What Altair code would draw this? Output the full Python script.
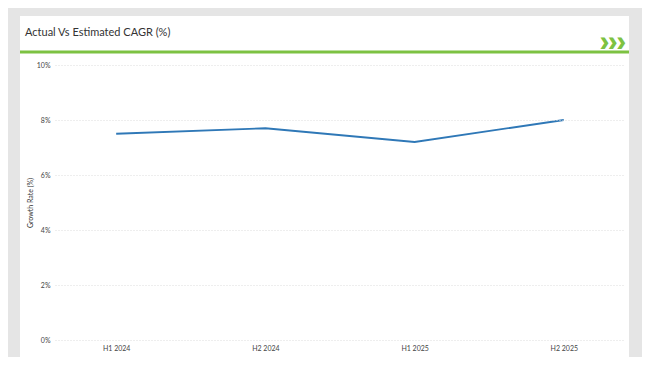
import altair as alt
import pandas as pd

periods = ["H1 2024", "H2 2024", "H1 2025", "H2 2025"]
growth = [7.5, 7.7, 7.2, 8.0]
title_text = "Actual Vs Estimated CAGR (%)"
y_title = "Growth Rate (%)"

df = pd.DataFrame({"period": periods, "growth": growth})
one = pd.DataFrame({"a": [0]})

FONT = "Lato"

panel = alt.Chart(one).mark_rect(color="white").encode(
    x=alt.value(-35), x2=alt.value(574), y=alt.value(-49), y2=alt.value(292)
)
green = alt.Chart(one).mark_rule(color="#7dc242", strokeWidth=3).encode(
    x=alt.value(-35), x2=alt.value(574), y=alt.value(-13)
)
chev = alt.Chart(one).mark_text(
    text="❯❯❯", color="#7dc242", fontSize=10, font="DejaVu Sans", fontWeight="bold",
    stroke="#7dc242", strokeWidth=1.6, align="center", baseline="middle", dx=-2
).encode(x=alt.value(560), y=alt.value(-22))
title = alt.Chart(one).mark_text(
    text=title_text, color="#333333", fontSize=11, font=FONT, align="left", baseline="alphabetic"
).encode(x=alt.value(-30), y=alt.value(-29))

line = alt.Chart(df).mark_line(color="#2f78b7", strokeWidth=1.8).encode(
    x=alt.X("period:N", sort=periods, title=None,
            scale=alt.Scale(type="point", padding=0.41),
            axis=alt.Axis(labelAngle=0, domain=False, ticks=False, grid=False, zindex=1,
                          labelFontSize=7, labelColor="#444444", labelFont=FONT, labelPadding=4)),
    y=alt.Y("growth:Q", title=y_title,
            scale=alt.Scale(domain=[0, 10]),
            axis=alt.Axis(values=[0, 2, 4, 6, 8, 10], labelExpr="datum.value + '%'", zindex=1,
                          domain=False, ticks=False, grid=True, gridColor="#dddddd",
                          gridDash=[1, 2], gridWidth=1,
                          labelFontSize=7, labelColor="#444444", labelFont=FONT, labelPadding=5,
                          titleFontSize=7, titleFont=FONT, titleColor="#333333",
                          titleFontWeight="normal", titlePadding=3)),
)

chart = alt.layer(panel, green, chev, title, line).properties(
    width=570, height=275,
    autosize=alt.AutoSizeParams(type="none"),
    padding={"left": 47, "top": 57, "right": 17, "bottom": 17},
    background="#e5e5e5",
).configure_view(stroke=None)

chart.save("out.html", embed_options={"renderer": "svg", "actions": False})
